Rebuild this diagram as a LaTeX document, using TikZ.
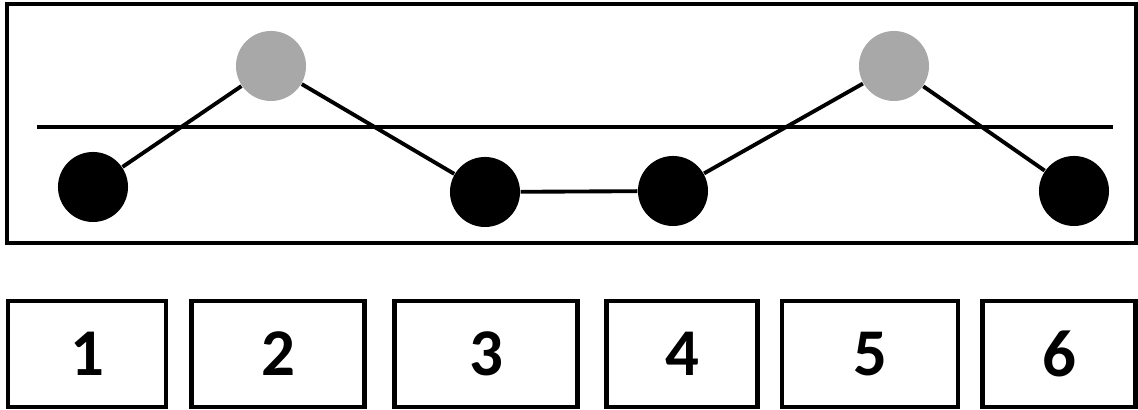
\documentclass[tikz,border=0pt]{standalone}
\usepackage{fontspec}
\setmainfont{Carlito}
\definecolor{dotgray}{RGB}{168,168,168}
\begin{document}
\begin{tikzpicture}[x=0.01cm,y=-0.01cm,
	blackdot/.style={circle,fill=black,minimum size=0.7cm,inner sep=0pt},
	graydot/.style={circle,fill=dotgray,minimum size=0.7cm,inner sep=0pt},
	numbox/.style={draw,line width=1.3pt,minimum height=1.06cm,inner sep=0pt,font=\fontsize{19}{22}\selectfont\bfseries},
	link/.style={line width=1.1pt}]
		\useasboundingbox (0,0) rectangle (1138,410);
		\draw[line width=1.4pt] (7,4) rectangle (1136,243);
		
		\coordinate (ls) at (37,127);
		\coordinate (le) at (1113,127);
		\draw[link] (ls) -- (le);
		
		\node[blackdot] (p1) at (93,187) {};
		\node[graydot] (p2) at (271,66) {};
		\node[blackdot] (p3) at (485,192) {};
		\node[blackdot] (p4) at (673,191) {};
		\node[graydot] (p5) at (894,66) {};
		\node[blackdot] (p6) at (1074,191) {};
		
		\draw[link] (p1) -- (p2);
		\draw[link] (p2) -- (p3);
		\draw[link] (p3) -- (p4);
		\draw[link] (p4) -- (p5);
		\draw[link] (p5) -- (p6);
		
		\node[numbox,minimum width=1.58cm] (b1) at (87,354) {1};
		\node[numbox,minimum width=1.73cm] (b2) at (278,354) {2};
		\node[numbox,minimum width=1.83cm] (b3) at (486,354) {3};
		\node[numbox,minimum width=1.51cm] (b4) at (682,354) {4};
		\node[numbox,minimum width=1.76cm] (b5) at (870,354) {5};
		\node[numbox,minimum width=1.53cm] (b6) at (1059,354) {6};
\end{tikzpicture}
\end{document}
